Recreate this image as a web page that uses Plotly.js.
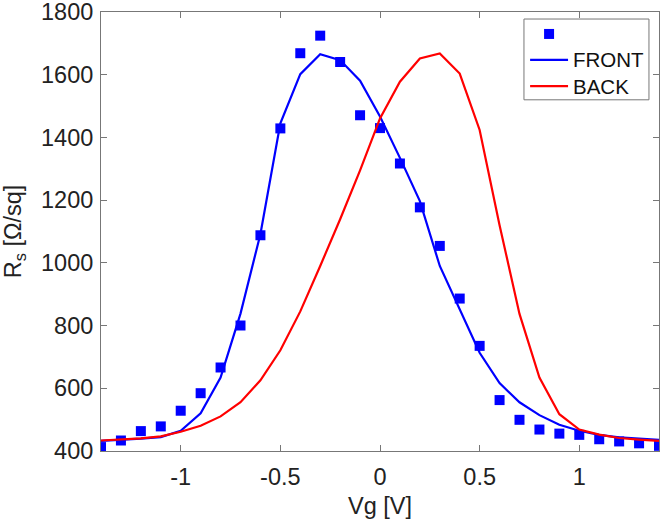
<!DOCTYPE html>
<html>
<head>
<meta charset="utf-8">
<script src="https://cdn.plot.ly/plotly-3.0.1.min.js"></script>
<style>html,body{margin:0;padding:0;background:#fff;}#chart{width:664px;height:519px;}</style>
</head>
<body>
<div id="chart"></div>
<script>
// Gate voltage (V)
const vg = [-1.4,-1.3,-1.2,-1.1,-1.0,-0.9,-0.8,-0.7,-0.6,-0.5,-0.4,-0.3,-0.2,-0.1,0.0,0.1,0.2,0.3,0.4,0.5,0.6,0.7,0.8,0.9,1.0,1.1,1.2,1.3,1.4];
// Measured sheet resistance (squares)
const rsMeasured = [412,433,463,478,528,584,666,800,1088,1429,1669,1725,1641,1471,1430,1317,1177,1054,886,735,562,499,468,455,451,437,430,424,416];
// FRONT model curve
const rsFront = [432,435,439,444,464,520,634,838,1092,1445,1602,1666,1647,1581,1467,1335,1197,990,853,713,616,555,514,483,464,451,443,438,435];
// BACK model curve
const rsBack = [433,436,440,446,461,480,510,555,625,721,845,990,1139,1295,1461,1578,1652,1668,1604,1424,1120,837,634,517,468,452,441,436,432];
const legendNames = ["", "FRONT", "BACK"];
const xTicks = [-1, -0.5, 0, 0.5, 1];
const xTickText = ["-1", "-0.5", "0", "0.5", "1"];
const yTicks = [400, 600, 800, 1000, 1200, 1400, 1600, 1800];

const fam = "'Liberation Sans', Arial, Helvetica, sans-serif";
const font = {family: fam, size: 23.5, color: "#222"};
const legendFont = {family: fam, size: 20.5, color: "#111"};
const BLUE = "#0000ff", RED = "#ff0000", AXIS = "#777";

const traces = [
  {x: vg, y: rsMeasured, name: legendNames[0], mode: "markers", type: "scatter",
   marker: {symbol: "square", size: 10, color: BLUE}},
  {x: vg, y: rsFront, name: legendNames[1], mode: "lines", type: "scatter",
   line: {color: BLUE, width: 2.2}},
  {x: vg, y: rsBack, name: legendNames[2], mode: "lines", type: "scatter",
   line: {color: RED, width: 2.2}}
];

const axisCommon = {
  showgrid: false, zeroline: false, showline: true, mirror: "ticks",
  linecolor: AXIS, linewidth: 1, ticks: "inside", ticklen: 6, tickcolor: AXIS,
  tickfont: font, ticklabeloverflow: "allow"
};

// Legend box (MATLAB-style), drawn in paper coordinates
const lg = {x0: 0.758, x1: 0.982, y0: 0.800, y1: 0.984, symX0: 0.769, symX1: 0.837, textX: 0.843,
            rows: [0.950, 0.891, 0.831]};
const shapes = [
  {type: "rect", xref: "paper", yref: "paper", x0: lg.x0, x1: lg.x1, y0: lg.y0, y1: lg.y1,
   line: {color: AXIS, width: 1}, fillcolor: "#fff", layer: "above"},
  {type: "rect", xref: "paper", yref: "paper", xsizemode: "pixel", ysizemode: "pixel",
   xanchor: (lg.symX0 + lg.symX1) / 2, yanchor: lg.rows[0], x0: -5, x1: 5, y0: -5, y1: 5,
   line: {width: 0}, fillcolor: BLUE, layer: "above"},
  {type: "line", xref: "paper", yref: "paper", x0: lg.symX0, x1: lg.symX1, y0: lg.rows[1], y1: lg.rows[1],
   line: {color: BLUE, width: 2.2}, layer: "above"},
  {type: "line", xref: "paper", yref: "paper", x0: lg.symX0, x1: lg.symX1, y0: lg.rows[2], y1: lg.rows[2],
   line: {color: RED, width: 2.2}, layer: "above"}
];
const annotations = [1, 2].map(i => ({
  xref: "paper", yref: "paper", x: lg.textX, y: lg.rows[i], xanchor: "left", yanchor: "middle",
  text: legendNames[i], showarrow: false, font: legendFont
}));

const layout = {
  width: 664, height: 519,
  margin: {l: 101, r: 5, t: 12, b: 68},
  paper_bgcolor: "#fff", plot_bgcolor: "#fff",
  font: font,
  showlegend: false,
  xaxis: Object.assign({}, axisCommon, {
    range: [-1.4, 1.4], tickvals: xTicks, ticktext: xTickText,
    ticklabelstandoff: 5,
    title: {text: "Vg [V]", font: font, standoff: 8}
  }),
  yaxis: Object.assign({}, axisCommon, {
    range: [399.5, 1800.5], tickvals: yTicks,
    ticklabelstandoff: 2,
    title: {text: "R<sub>s</sub> [Ω/sq]", font: font, standoff: 18}
  }),
  shapes: shapes,
  annotations: annotations
};

Plotly.newPlot("chart", traces, layout, {displayModeBar: false, staticPlot: true});
</script>
</body>
</html>
